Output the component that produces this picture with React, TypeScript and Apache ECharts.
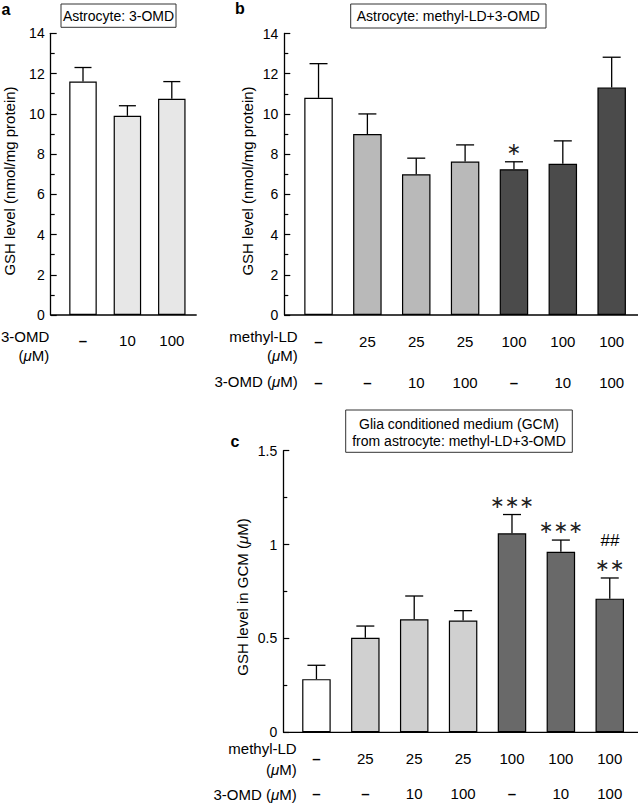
import React, { useEffect, useRef } from "react";
import * as echarts from "echarts";

// ---------- data ----------
const aOmdDoses = ["–", "10", "100"];
const aValues = [11.6, 9.9, 10.75];
const aErrors = [0.7, 0.5, 0.85];

const ldDoses = ["–", "25", "25", "25", "100", "100", "100"];
const omdDoses = ["–", "–", "10", "100", "–", "10", "100"];

const bValues = [10.8, 9.0, 7.0, 7.63, 7.25, 7.52, 11.32];
const bErrors = [1.7, 1.0, 0.8, 0.83, 0.37, 1.14, 1.5];
const bMarks = ["", "", "", "", "∗", "", ""];

const cValues = [0.283, 0.504, 0.602, 0.595, 1.06, 0.962, 0.712];
const cErrors = [0.074, 0.062, 0.124, 0.053, 0.1, 0.062, 0.11];
const cMarks = ["", "", "", "", "∗∗∗", "∗∗∗", "∗∗"];
const cMarks2 = ["", "", "", "", "", "", "##"];

const abYTicks = { min: 0, max: 14, interval: 2 };
const cYTicks = { min: 0, max: 1.5, interval: 0.5 };

// ---------- styles ----------
const FONT = "Liberation Sans";
const aColors = ["#ffffff", "#e7e7e7", "#e7e7e7"];
const bColors = ["#ffffff", "#b9b9b9", "#b9b9b9", "#b9b9b9", "#4b4b4b", "#4b4b4b", "#4b4b4b"];
const cColors = ["#ffffff", "#d0d0d0", "#d0d0d0", "#d0d0d0", "#696969", "#696969", "#696969"];

function barSeries(xi: number, yi: number, values: number[], colors: string[], width: number) {
  return {
    type: "bar",
    xAxisIndex: xi,
    yAxisIndex: yi,
    barWidth: width,
    data: values.map((v, i) => ({
      value: v,
      itemStyle: { color: colors[i], borderColor: "#000", borderWidth: 1.2 },
    })),
    z: 2,
  };
}

function errSeries(
  xi: number,
  yi: number,
  values: number[],
  errors: number[],
  capHalf: number,
  marks?: string[],
  marks2?: string[]
) {
  return {
    type: "custom",
    xAxisIndex: xi,
    yAxisIndex: yi,
    data: values.map((v, i) => [i, v, errors[i]]),
    z: 5,
    renderItem: (params: any, api: any) => {
      const i = api.value(0);
      const v = api.value(1);
      const e = api.value(2);
      const base = api.coord([i, v]);
      const top = api.coord([i, v + e]);
      const ls = { stroke: "#000", lineWidth: 1.3 };
      const children: any[] = [
        { type: "line", shape: { x1: base[0], y1: base[1], x2: top[0], y2: top[1] }, style: ls },
        { type: "line", shape: { x1: top[0] - capHalf, y1: top[1], x2: top[0] + capHalf, y2: top[1] }, style: ls },
      ];
      const m = marks ? marks[params.dataIndex] : "";
      if (m) {
        children.push({
          type: "text",
          style: {
            text: m,
            x: top[0],
            y: top[1] - 13,
            align: "center",
            verticalAlign: "middle",
            fontFamily: "DejaVu Sans",
            fontSize: 17.5,
            fill: "#222",
          },
        });
      }
      const m2 = marks2 ? marks2[params.dataIndex] : "";
      if (m2) {
        children.push({
          type: "text",
          style: {
            text: m2,
            x: top[0],
            y: top[1] - 37,
            align: "center",
            verticalAlign: "middle",
            fontFamily: FONT,
            fontStyle: "italic",
            fontSize: 17,
            fill: "#000",
          },
        });
      }
      return { type: "group", children };
    },
  };
}

function yAxis(gi: number, ticks: any, offset: number) {
  return {
    type: "value",
    gridIndex: gi,
    position: "left",
    min: ticks.min,
    max: ticks.max,
    interval: ticks.interval,
    offset,
    axisLine: { show: true, lineStyle: { color: "#000", width: 1.3 } },
    axisTick: { show: true, inside: true, length: 6, lineStyle: { color: "#000", width: 1.2 } },
    minorTick: { show: true, splitNumber: 2, length: 4, lineStyle: { color: "#000", width: 1.2 } },
    splitLine: { show: false },
    axisLabel: { color: "#000", fontFamily: FONT, fontSize: 14, margin: 6 },
  };
}

function xAxis(gi: number, data: string[], margin: number, offset = 0) {
  return {
    type: "category",
    gridIndex: gi,
    position: "bottom",
    data,
    offset,
    axisLine: { show: false },
    axisTick: { show: false },
    axisLabel: {
      color: "#000",
      fontFamily: FONT,
      fontSize: 15,
      margin,
      interval: 0,
      formatter: (v: string) => (v === "–" ? "{d|–}" : v),
      rich: { d: { fontFamily: FONT, fontSize: 15, fontWeight: "bold", color: "#000" } },
    },
  };
}

function txt(text: string, x: number, y: number, align: string, extra: any = {}) {
  return {
    type: "text",
    x,
    y,
    style: {
      text,
      align,
      verticalAlign: "middle",
      fontFamily: FONT,
      fontSize: 15,
      fill: "#000",
      rich: { i: { fontStyle: "italic", fontFamily: FONT, fontSize: 15 } },
      ...extra,
    },
  };
}

function hline(x1: number, x2: number, y: number) {
  return { type: "line", shape: { x1, y1: y, x2, y2: y }, style: { stroke: "#000", lineWidth: 1.3 } };
}

function box(x: number, y: number, w: number, h: number) {
  return { type: "rect", shape: { x, y, width: w, height: h }, style: { fill: "none", stroke: "#333", lineWidth: 1 } };
}

export default function App() {
  const ref = useRef<HTMLDivElement>(null);
  useEffect(() => {
    if (!ref.current) return;
    const chart = echarts.init(ref.current, undefined, { renderer: "svg" });
    const option: any = {
      animation: false,
      backgroundColor: "#fff",
      grid: [
        { left: 60.8, top: 33.3, width: 133.2, height: 281.7, outerBoundsMode: "none", containLabel: false },
        { left: 294.1, top: 33.5, width: 342, height: 281.5, outerBoundsMode: "none", containLabel: false },
        { left: 292, top: 450.7, width: 342.2, height: 281.6, outerBoundsMode: "none", containLabel: false },
      ],
      xAxis: [
        xAxis(0, aOmdDoses, 18),
        xAxis(1, ldDoses, 18.5),
        xAxis(1, omdDoses, 18.5, 41),
        xAxis(2, ldDoses, 19),
        xAxis(2, omdDoses, 19, 35),
      ],
      yAxis: [yAxis(0, abYTicks, 10.1), yAxis(1, abYTicks, 9.8), yAxis(2, cYTicks, 8.7)],
      series: [
        barSeries(0, 0, aValues, aColors, 27.5),
        errSeries(0, 0, aValues, aErrors, 8.5),
        barSeries(1, 1, bValues, bColors, 28.5),
        errSeries(1, 1, bValues, bErrors, 9, bMarks),
        barSeries(3, 2, cValues, cColors, 28.5),
        errSeries(3, 2, cValues, cErrors, 9, cMarks, cMarks2),
      ],
      graphic: [
        hline(50.7, 196.7, 315),
        hline(284.3, 638, 315),
        hline(283.3, 638, 732.3),
        // panel letters
        txt("a", 6, 9, "center", { fontWeight: "bold", fontSize: 16 }),
        txt("b", 240, 8, "center", { fontWeight: "bold", fontSize: 16 }),
        txt("c", 235, 441, "center", { fontWeight: "bold", fontSize: 16 }),
        // title boxes
        box(61, 4, 115, 23.3),
        txt("Astrocyte: 3-OMD", 118.5, 15.7, "center", { fontSize: 14 }),
        box(350.7, 4, 195.3, 24),
        txt("Astrocyte: methyl-LD+3-OMD", 448.3, 16, "center", { fontSize: 14 }),
        box(345.7, 410, 226.6, 42.3),
        txt("Glia conditioned medium (GCM)", 459, 423.7, "center", { fontSize: 14 }),
        txt("from astrocyte: methyl-LD+3-OMD", 459, 440.7, "center", { fontSize: 14 }),
        // y-axis titles
        { ...txt("GSH level (nmol/mg protein)", 9, 181, "center"), rotation: Math.PI / 2 },
        { ...txt("GSH level (nmol/mg protein)", 247, 181, "center"), rotation: Math.PI / 2 },
        { ...txt("GSH level in GCM ({i|μ}M)", 242.5, 597, "center"), rotation: Math.PI / 2 },
        // row labels
        txt("3-OMD", 49.3, 336.7, "right"),
        txt("({i|μ}M)", 49.3, 355, "right"),
        txt("methyl-LD", 297.7, 336.7, "right"),
        txt("({i|μ}M)", 297.7, 355, "right"),
        txt("3-OMD ({i|μ}M)", 297.7, 381.7, "right"),
        txt("methyl-LD", 296.7, 748.5, "right"),
        txt("({i|μ}M)", 296.7, 769, "right"),
        txt("3-OMD ({i|μ}M)", 296.7, 794, "right"),
      ],
    };
    chart.setOption(option);
    return () => chart.dispose();
  }, []);
  return (
    <div
      ref={ref}
      style={{ position: "absolute", left: 0, top: 0, width: 638, height: 805, background: "#fff" }}
    />
  );
}
